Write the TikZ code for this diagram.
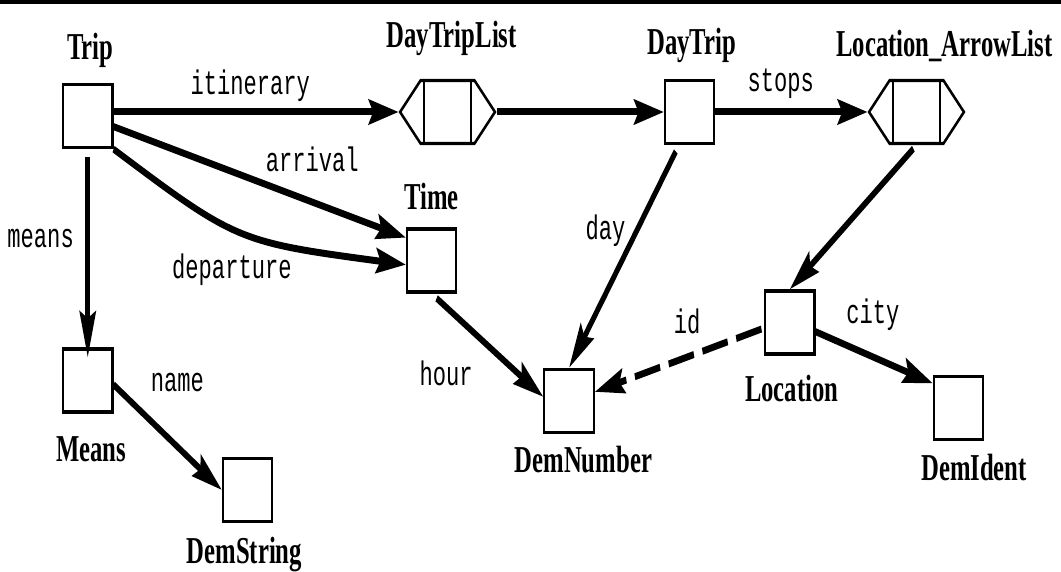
\documentclass[tikz,border=0pt]{standalone}
\usepackage{fontspec}
\setmainfont{Liberation Serif}
\setmonofont{Liberation Mono}
\usetikzlibrary{positioning, arrows.meta, shapes.symbols}

\tikzset{
	box/.style = {draw, line width=3.3pt, minimum width=76pt, minimum height=63pt, inner sep=0pt},
	listbox/.style = {box, signal, signal to=east and west, minimum width=146pt,
		path picture={\foreach \s in {-36pt, 36pt}
			\draw[line width=3pt] ([xshift=\s]path picture bounding box.north) -- ([xshift=\s]path picture bounding box.south);}},
	tname/.style = {font=\fontsize{38}{42}\selectfont\bfseries, inner sep=0pt, text height=25pt, text depth=8pt},
	rel/.style = {font=\fontsize{34}{38}\selectfont\ttfamily, inner sep=1pt, text height=21.5pt, text depth=7pt},
	link/.style = {line width=7pt, -{Stealth[length=46pt, width=25pt, inset=7pt]}},
}

\begin{document}
\begin{tikzpicture}[node distance = 2cm, on grid]
	\useasboundingbox (0,0) rectangle (1061pt,-572pt);
	\draw[line width=4pt] (0,-2pt) -- (1061pt,-2pt);
	\begin{scope}[transform canvas={xscale=0.65}]
	\node[box, label={[tname, label distance=15pt, xshift=4pt]above:Trip}] (trip) at (135pt,-116pt) {};
	\node[listbox, above right=4pt and 553.5pt of trip, label={[tname, label distance=22.7pt, xshift=6.5pt]above:DayTripList}] (daytriplist) {};
	\node[box, right=372.5pt of daytriplist, label={[tname, label distance=16pt, xshift=3pt]above:DayTrip}] (daytrip) {};
	\node[listbox, right=349pt of daytrip, label={[tname, label distance=14.3pt, xshift=43pt]above:Location\_ArrowList}] (arrowlist) {};
	\node[box, below left=148.5pt and 24.5pt of daytriplist, label={[tname, label distance=9.5pt]above:Time}] (time) {};
	\node[box, below=264.5pt of trip, label={[tname, label distance=23pt, xshift=5pt]below:Means}] (means) {};
	\node[box, below right=109.5pt and 246pt of means, label={[tname, label distance=15pt, xshift=-5pt]below:DemString}] (demstring) {};
	\node[box, below right=140.5pt and 211.5pt of time, label={[tname, label distance=13pt, xshift=22pt]below:DemNumber}] (demnumber) {};
	\node[box, below left=210.5pt and 195pt of arrowlist, label={[tname, label distance=21pt, xshift=3pt]below:Location}] (location) {};
	\node[box, below right=85.5pt and 259.5pt of location, label={[tname, label distance=14pt, xshift=24pt]below:DemIdent}] (demident) {};

	\path[link] (trip.east |- daytriplist) edge node[rel, above=6pt, pos=0.48] (r-itinerary) {itinerary} (daytriplist)
		(daytriplist) edge (daytrip)
		(daytrip) edge node[rel, above=9pt, pos=0.43] (r-stops) {stops} (arrowlist)
		(trip.-15) edge node[rel, above=19.4pt, pos=0.68] (r-arrival) {arrival} (time.150)
		(trip.south east) edge[out=-26, in=175, out looseness=1.16, in looseness=1.43] node[rel, below=24pt, pos=0.45] (r-departure) {departure} (time.186)
		(trip) edge[shorten <=8pt, shorten >=-10pt] node[rel, left=17pt, pos=0.46] (r-means) {means} (means)
		(means.-6) edge node[rel, above=43.6pt, pos=0.59] (r-name) {name} (demstring.west)
		(time.south) edge[shorten <=9pt] node[rel, below=52.8pt, pos=0.13] (r-hour) {hour} (demnumber.174)
		([xshift=-16.5pt]daytrip.south) edge[shorten <=8pt] node[rel, left=12pt, pos=0.39] (r-day) {day} (demnumber.north)
		(arrowlist.south) edge[shorten <=6pt] (location.north)
		(location.188) edge[shorten <=4pt, dash pattern=on 40pt off 13.5pt] node[rel, above=11.6pt, pos=0.455] (r-id) {id} (demnumber.13)
		(location.-13) edge node[rel, above=22pt, pos=0.49] (r-city) {city} (demident.148);
	\end{scope}
\end{tikzpicture}
\end{document}
